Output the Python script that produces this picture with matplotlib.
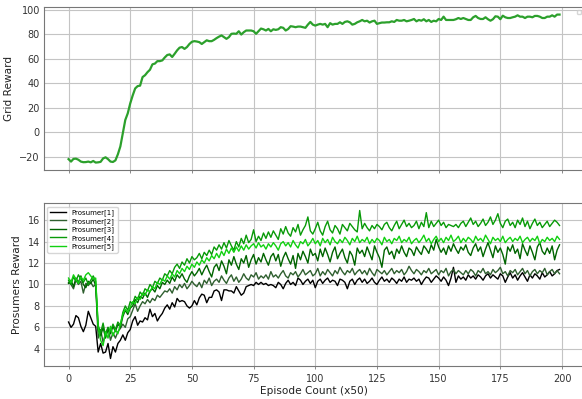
import numpy as np
import matplotlib
matplotlib.use("Agg")
import matplotlib.pyplot as plt

# grid reward (smoothed), one value per 50 episodes
grid_reward = [
    -22, -24, -21.8, -21.6, -22.5, -24, -24.5, -24.4, -24, -24.6, -23.5, -24.8, -24.6, -24.2, -21.4, -20.5, -22, -24, -24.3, -23,
    -18, -11.6, -1, 10, 15.4, 23.5, 30, 35.7, 37.6, 38, 45, 46.5, 49, 51, 55.4, 56, 58, 58, 58.6, 61,
    63, 63.5, 61.4, 64, 66.8, 69, 69.5, 68, 69.5, 72, 73.8, 74.3, 74, 73.5, 72, 73.5, 75, 74.3, 74.3, 75.4,
    76.8, 78, 79, 77.6, 76.2, 77.6, 80.3, 80.5, 80.3, 82.4, 79.7, 81.6, 83, 83, 83, 82.4, 80.3, 82.4, 84.6, 84,
    83, 84.3, 82.4, 84, 83.5, 84, 85.7, 85.2, 83, 84.2, 86.5, 86.2, 85.7, 86.2, 86.2, 85.7, 85.2, 87.8, 90, 87.8,
    87, 87.8, 88.4, 87.8, 88.4, 85.7, 89, 87.8, 88.4, 88.4, 89.7, 88.4, 90, 90.5, 89.7, 87.8, 88.4, 89.7, 90.5, 91.6,
    90.5, 91, 89.5, 90.5, 91, 88.4, 89, 89.5, 89.5, 89.7, 89.7, 90.5, 90, 91.6, 91, 91, 91.6, 90.5, 91, 91.6,
    92.4, 90.5, 91.6, 91, 92.2, 90.5, 91.6, 90, 91, 90.5, 92.4, 91.6, 94.3, 91.6, 91.6, 91.6, 91.6, 92.2, 93.2, 92.4,
    93.2, 92.4, 91.6, 91.6, 93.8, 94.9, 93.2, 92.4, 92.4, 93.8, 92.2, 91, 92.2, 94.6, 94.3, 92.2, 95.1, 93.8, 93.2, 93.2,
    93.8, 94.3, 95.4, 94.3, 94.3, 93.2, 94.3, 94.3, 93.8, 94.9, 94.9, 94.3, 93.2, 93.2, 94.3, 94.3, 95.4, 94.3, 96, 96,
]

prosumer_1 = [
    6.5, 6.0, 6.3, 7.1, 6.9, 6.1, 5.6, 6.2, 7.5, 6.9, 6.3, 6.1, 3.7, 4.5, 3.6, 3.7, 4.5, 3.1, 4.2, 3.7,
    4.5, 4.8, 5.3, 4.8, 5.5, 5.8, 6.6, 7.0, 6.2, 6.6, 6.5, 6.9, 6.7, 7.7, 7.0, 7.3, 6.6, 7.0, 7.3, 7.8,
    8.1, 7.7, 8.3, 7.9, 8.7, 8.4, 8.5, 8.4, 8.0, 7.8, 8.0, 8.5, 8.1, 8.75, 9.1, 9.0, 8.3, 8.8, 8.8, 9.4,
    9.5, 9.3, 8.5, 9.5, 9.5, 9.4, 9.4, 9.2, 9.8, 9.4, 9.0, 9.2, 9.8, 9.9, 10.0, 9.9, 10.2, 10.0, 10.2, 10.0,
    10.1, 9.9, 10.0, 9.9, 9.7, 10.2, 10.0, 9.6, 10.1, 10.4, 10.0, 10.2, 9.9, 10.6, 10.4, 10.0, 10.3, 10.5, 10.1, 10.4,
    9.7, 10.3, 10.5, 10.1, 10.4, 10.6, 10.2, 10.4, 10.3, 9.9, 10.5, 10.4, 10.2, 9.6, 10.3, 10.5, 10.0, 10.4, 10.6, 10.2,
    10.5, 10.1, 10.3, 10.6, 10.2, 10.0, 10.4, 10.7, 10.3, 10.5, 10.2, 10.6, 10.4, 10.1, 10.5, 10.3, 10.7, 10.2, 10.5, 10.4,
    10.6, 10.3, 10.5, 10.0, 10.4, 10.7, 10.6, 10.2, 10.5, 10.8, 10.6, 10.3, 10.7, 10.4, 9.9, 10.6, 11.6, 10.2, 10.8, 10.5,
    10.7, 10.4, 10.9, 10.6, 10.8, 10.5, 10.9, 10.7, 10.4, 10.8, 11.0, 10.6, 10.9, 10.7, 10.5, 11.0, 10.8, 10.2, 10.7, 11.1,
    10.6, 10.9, 10.4, 10.8, 11.1, 10.7, 10.3, 10.9, 10.6, 11.0, 10.8, 10.5, 11.1, 10.7, 10.9, 11.2, 10.8, 11.0, 11.3, 11.4,
]

prosumer_2 = [
    10.2, 10.0, 9.6, 10.4, 10.0, 10.3, 9.2, 10.1, 9.9, 10.2, 9.8, 10.0, 5.0, 5.8, 4.6, 5.4, 6.0, 4.8, 5.5, 5.0,
    5.6, 5.9, 6.3, 6.0, 6.8, 7.0, 7.6, 8.2, 7.5, 8.0, 8.4, 8.2, 8.6, 8.3, 8.7, 8.5, 9.0, 8.8, 9.1, 9.4,
    9.3, 9.6, 9.2, 9.8, 9.5, 10.0, 9.7, 10.1, 9.6, 9.9, 10.3, 10.0, 9.8, 10.2, 9.7, 10.4, 10.1, 10.6, 9.9, 10.3,
    10.5, 10.2, 10.8, 10.4, 10.1, 10.6, 10.9, 10.3, 10.7, 10.2, 10.5, 11.0, 10.6, 10.4, 10.9, 10.7, 11.1, 10.5, 10.8, 10.6,
    10.9, 10.5, 11.2, 10.7, 10.9, 10.6, 11.0, 11.3, 10.8, 10.6, 11.1, 10.9, 11.2, 10.7, 11.0, 11.4, 10.9, 11.1, 11.3, 10.8,
    11.0, 11.5, 10.8, 11.2, 10.9, 11.4, 11.1, 10.8, 11.3, 11.0, 11.6, 11.2, 10.9, 11.3, 11.1, 11.5, 10.9, 11.2, 11.4, 11.0,
    11.3, 10.9, 11.5, 11.1, 10.8, 11.4, 11.2, 11.0, 11.3, 10.9, 11.2, 11.5, 11.0, 11.3, 11.1, 11.4, 10.9, 11.2, 11.7, 11.3,
    11.0, 11.4, 11.2, 10.9, 11.3, 11.1, 11.5, 11.0, 11.2, 11.4, 10.9, 11.3, 11.1, 11.5, 10.8, 11.2, 11.4, 11.0, 11.3, 11.1,
    10.9, 11.3, 11.0, 11.4, 11.2, 10.8, 11.3, 11.1, 11.5, 11.0, 11.2, 10.9, 11.4, 11.1, 11.3, 11.6, 11.0, 11.2, 10.8, 11.3,
    11.1, 11.4, 10.9, 11.2, 11.5, 11.0, 11.3, 10.8, 11.2, 11.4, 11.0, 11.3, 11.1, 11.5, 10.9, 11.2, 11.4, 11.0, 11.3, 11.0,
]

prosumer_3 = [
    10.1, 10.4, 9.8, 10.6, 10.2, 10.8, 10.0, 9.7, 10.3, 10.1, 10.5, 9.9, 5.8, 5.2, 6.0, 5.0, 5.8, 5.4, 6.1, 5.6,
    6.3, 6.0, 7.0, 7.6, 7.2, 7.8, 8.0, 8.6, 8.3, 8.9, 8.7, 9.2, 8.8, 9.4, 9.6, 9.3, 9.9, 9.6, 10.2, 10.0,
    10.4, 10.1, 10.7, 10.3, 10.9, 10.6, 11.0, 10.5, 10.2, 10.8, 11.2, 10.8, 11.1, 11.5, 10.9, 11.4, 11.8, 11.2, 10.7, 11.6,
    11.9, 11.3, 12.2, 11.7, 11.0, 12.3, 11.8, 12.6, 11.9, 11.4, 12.4, 12.0, 12.7, 11.6, 12.3, 12.8, 11.9, 12.5, 12.1, 12.9,
    12.3, 11.8, 12.6, 12.9, 12.2, 12.8, 11.7, 12.5, 13.0, 12.4, 11.9, 12.7, 11.5, 12.9, 12.3, 13.1, 12.6, 12.0, 13.3, 12.7,
    12.9, 12.2, 13.3, 12.6, 13.4, 12.8, 12.1, 13.0, 13.5, 12.4, 12.9, 13.3, 12.5, 12.0, 13.1, 12.7, 11.8, 13.4, 12.9, 13.2,
    12.6, 13.5, 12.9, 12.3, 13.6, 13.0, 12.5, 11.6, 13.2, 13.5, 12.8, 13.1, 12.4, 13.3, 12.9, 13.6, 13.0, 12.6, 13.4, 13.2,
    12.7, 13.5, 13.1, 12.8, 13.6, 13.3, 12.9, 13.7, 13.2, 14.2, 13.5, 13.0, 13.4, 12.8, 13.6, 13.1, 13.8, 13.3, 12.9, 13.5,
    13.2, 13.7, 13.0, 12.7, 13.4, 13.8, 13.1, 13.5, 12.6, 13.3, 13.9, 13.2, 12.5, 13.6, 13.0, 13.4, 12.8, 11.9, 13.5, 13.1,
    13.7, 12.9, 13.3, 12.4, 13.8, 13.2, 12.7, 13.6, 13.0, 12.3, 13.5, 13.9, 13.1, 12.8, 13.4, 12.9, 13.6, 12.3, 13.2, 13.7,
]

prosumer_4 = [
    10.4, 10.0, 10.7, 10.3, 10.9, 10.5, 10.2, 10.6, 10.0, 10.4, 10.8, 10.3, 6.2, 5.5, 6.4, 5.2, 6.0, 5.6, 6.3, 5.8,
    6.5, 6.2, 7.4, 8.0, 7.6, 8.4, 8.2, 8.9, 8.6, 9.3, 9.0, 9.6, 9.4, 10.0, 9.7, 10.3, 10.1, 10.6, 10.4, 11.0,
    10.8, 11.3, 11.0, 11.6, 11.9, 11.5, 12.1, 11.8, 12.4, 12.0, 12.6, 12.3, 12.5, 12.9, 12.4, 13.0, 12.7, 13.2, 12.8, 13.5,
    13.2, 13.7, 13.3, 13.9, 13.4, 14.1, 13.6, 13.2, 14.0, 13.5, 14.3, 13.8, 14.6, 13.9, 14.2, 15.1, 14.0, 14.5, 14.1, 14.8,
    14.3, 14.9, 14.4, 15.0, 14.6, 14.2, 15.2, 14.7, 15.4, 14.8, 14.5, 15.3, 14.9, 15.6, 14.6, 15.1, 15.5, 16.3, 15.0, 14.7,
    15.2, 15.8, 15.0, 14.6, 15.4, 15.9, 15.1, 14.8, 15.5, 15.2, 14.7, 15.6, 15.3, 15.0, 15.7, 15.4, 15.1, 14.9, 16.9, 15.2,
    15.7, 15.3, 15.0, 15.5, 15.2, 15.6, 15.4, 15.1, 15.6, 15.8, 15.3, 15.0, 15.5, 15.9, 15.2, 15.6, 16.0, 15.4, 15.7, 15.3,
    15.5, 15.9, 15.2, 15.8, 15.4, 16.7, 15.3, 15.9, 15.4, 15.7, 16.0, 15.5, 15.8, 15.3, 15.6, 15.5, 15.4, 15.6, 15.3, 15.7,
    15.9, 15.4, 15.8, 16.2, 15.6, 15.9, 15.4, 15.7, 16.1, 15.5, 15.8, 16.3, 15.6, 16.0, 16.6, 15.7, 15.3, 15.9, 16.1, 15.5,
    15.8, 15.3, 16.0, 15.6, 16.2, 15.4, 15.9, 15.2, 15.7, 16.1, 15.5, 15.8, 15.3, 15.6, 15.9, 15.4, 15.7, 16.0, 15.8, 15.5,
]

prosumer_5 = [
    10.6, 10.2, 10.9, 10.5, 10.1, 10.7, 10.4, 10.9, 11.1, 10.8, 10.5, 10.6, 6.0, 4.8, 4.3, 5.6, 5.0, 6.1, 5.2, 5.8,
    5.4, 6.3, 7.2, 7.7, 7.4, 7.9, 8.4, 8.2, 8.8, 8.6, 9.2, 9.0, 9.5, 9.3, 9.8, 9.6, 10.2, 10.0, 10.5, 10.3,
    10.8, 10.5, 11.0, 10.7, 11.3, 11.0, 11.5, 11.2, 11.7, 11.4, 11.9, 11.6, 12.1, 11.8, 12.3, 12.0, 12.5, 12.2, 12.7, 12.4,
    12.9, 12.5, 13.1, 12.7, 13.3, 12.9, 13.4, 13.0, 13.5, 13.1, 13.6, 13.2, 13.7, 13.3, 13.6, 13.8, 13.4, 13.9, 13.5, 13.7,
    13.3, 13.8, 13.5, 13.9, 13.6, 13.2, 13.8, 14.0, 13.6, 13.9, 13.5, 14.1, 13.7, 13.4, 14.0, 13.8, 14.2, 13.6, 13.9, 14.3,
    13.8, 14.1, 13.6, 14.3, 13.9, 14.2, 13.7, 14.4, 14.0, 13.8, 14.2, 13.9, 14.4, 14.1, 13.7, 14.3, 14.0, 14.5, 13.9, 14.2,
    14.0, 14.4, 13.8, 14.2, 13.9, 14.3, 14.1, 13.7, 14.4, 14.0, 14.2, 13.8, 14.3, 14.1, 14.5, 13.9, 14.2, 14.0, 14.4, 13.8,
    14.1, 14.3, 13.9, 14.2, 14.6, 14.0, 14.3, 13.8, 14.2, 14.5, 14.0, 14.3, 13.9, 14.4, 14.1, 14.6, 14.0, 14.2, 14.5, 13.9,
    14.3, 14.0, 14.4, 14.2, 13.9, 14.5, 14.1, 14.3, 14.0, 14.6, 14.2, 13.8, 14.4, 14.1, 14.3, 14.0, 14.5, 13.9, 14.2, 14.4,
    14.0, 14.3, 14.1, 14.5, 13.9, 14.2, 14.4, 14.0, 14.3, 14.1, 14.5, 13.8, 14.2, 14.0, 14.4, 14.1, 14.3, 14.0, 14.5, 14.2,
]

prosumer_labels = ['Prosumer[1]', 'Prosumer[2]', 'Prosumer[3]', 'Prosumer[4]', 'Prosumer[5]']
prosumer_colors = ['black', '#2f5f2f', '#006400', '#089a08', '#11d011']

episodes = np.arange(len(grid_reward))

fig = plt.figure(figsize=(5.82, 3.99), dpi=100)
ax1 = fig.add_axes([0.0756, 0.574, 0.928, 0.408])
ax2 = fig.add_axes([0.0756, 0.083, 0.928, 0.408], sharex=ax1)

for ax in (ax1, ax2):
    ax.grid(True, color='#c4c4c4', linewidth=0.8)
    ax.set_axisbelow(True)
    for sp in ax.spines.values():
        sp.set_color('#777777')
    ax.tick_params(colors='#333333', labelsize=7, length=2.5, width=0.6)
    ax.tick_params(axis='y', length=0, pad=3)
    ax.tick_params(axis='x', color='#777777')

# top: grid reward
ax1.plot(episodes, grid_reward, color='#2ca02c', linewidth=1.6)
ax1.set_ylabel('Grid Reward', fontsize=7.6, color='#222222')
ax1.set_yticks([-20, 0, 20, 40, 60, 80, 100])
plt.setp(ax1.get_xticklabels(), visible=False)
ax1.legend(handles=[], loc='upper right', fontsize=4)

# bottom: per-prosumer reward
series = [prosumer_1, prosumer_2, prosumer_3, prosumer_4, prosumer_5]
for vals, lab, col in zip(series, prosumer_labels, prosumer_colors):
    ax2.plot(episodes, vals, color=col, linewidth=1.0, label=lab)
ax2.set_ylabel('Prosumers Reward', fontsize=7.6, color='#222222')
ax2.set_xlabel('Episode Count (x50)', fontsize=7.6, color='#222222', labelpad=1)
ax2.set_yticks([4, 6, 8, 10, 12, 14, 16])
ax2.set_xticks([0, 25, 50, 75, 100, 125, 150, 175, 200])
ax2.legend(loc='upper left', fontsize=5, handlelength=2.3, labelspacing=0.25,
           borderpad=0.4, framealpha=0.8, edgecolor='#cccccc')

fig.savefig('out.png', dpi=100)
